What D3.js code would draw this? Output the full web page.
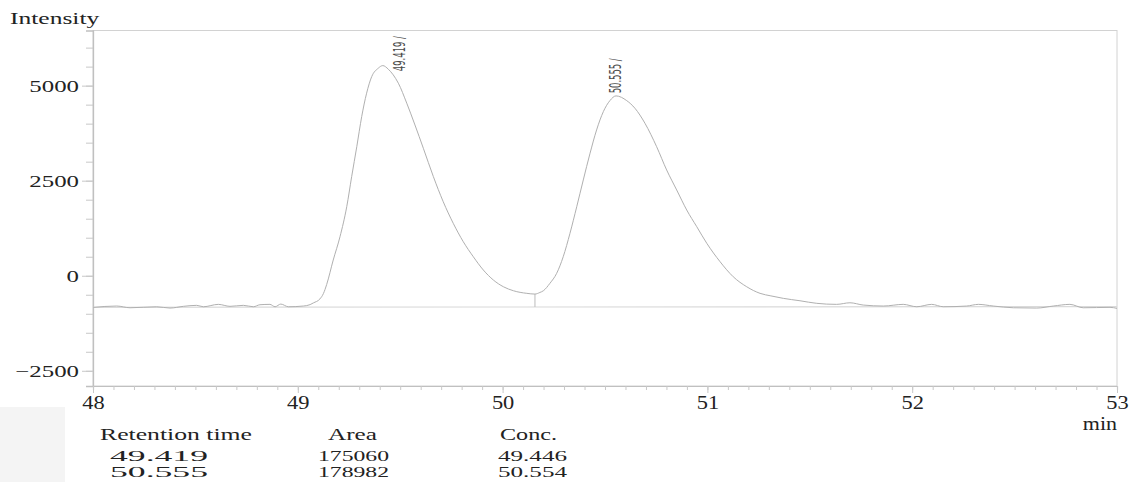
<!DOCTYPE html>
<html>
<head>
<meta charset="utf-8">
<script src="https://cdn.jsdelivr.net/npm/d3@7/dist/d3.min.js"></script>
<style>
  html, body { margin: 0; padding: 0; background: #ffffff; }
  svg { display: block; }
</style>
</head>
<body>
<svg id="chart" width="1130" height="482"></svg>
<script>
// ---------------- DATA ----------------
const timeMin = [
  48.000, 48.116, 48.181, 48.311, 48.376, 48.441, 48.506, 48.539, 48.612, 48.669,
  48.734, 48.783, 48.815, 48.864, 48.889, 48.917, 48.954, 49.027, 49.060, 49.076,
  49.108, 49.125, 49.141, 49.173, 49.206, 49.239, 49.263, 49.288, 49.312, 49.336,
  49.361, 49.393, 49.415, 49.442, 49.466, 49.491, 49.532, 49.572, 49.613, 49.662,
  49.710, 49.759, 49.808, 49.857, 49.906, 49.955, 50.004, 50.053, 50.118, 50.158,
  50.182, 50.199, 50.231, 50.264, 50.296, 50.329, 50.362, 50.394, 50.427, 50.459,
  50.492, 50.524, 50.554, 50.606, 50.646, 50.695, 50.752, 50.801, 50.850, 50.899,
  50.948, 50.997, 51.062, 51.126, 51.192, 51.257, 51.310, 51.371, 51.452, 51.534,
  51.631, 51.696, 51.761, 51.859, 51.956, 52.022, 52.095, 52.152, 52.266, 52.323,
  52.396, 52.494, 52.608, 52.689, 52.770, 52.835, 52.966, 53.000
];
const intensity = [
  -832, -797, -842, -816, -850, -805, -779, -816, -753, -805,
  -779, -816, -763, -753, -816, -745, -816, -797, -760, -715,
  -610, -470, -230, 413, 1026, 1816, 2606, 3395, 4185, 4801,
  5238, 5459, 5527, 5432, 5283, 5064, 4538, 3966, 3353, 2606,
  1948, 1379, 895, 500, 150, -113, -290, -395, -463, -482,
  -440, -395, -200, 63, 500, 1116, 1816, 2519, 3222, 3835,
  4317, 4606, 4730, 4606, 4406, 4011, 3395, 2782, 2256, 1729,
  1290, 853, 368, -26, -290, -463, -530, -595, -658, -726,
  -753, -711, -771, -797, -753, -816, -753, -816, -797, -753,
  -797, -842, -850, -797, -753, -842, -832, -858
];

const baselineTime = [48, 53];
const baselineValue = [-830, -810];
const dropTimes = [50.158];

const peakRT = [49.419, 50.555];
const peakLabels = ["49.419 /", "50.555 /"];

const xMajorTicks = [48, 49, 50, 51, 52, 53];
const yMajorTicks = [-2500, 0, 2500, 5000];

const tableHeaders = ["Retention time", "Area", "Conc."];
const tableRT = ["49.419", "50.555"];
const tableArea = ["175060", "178982"];
const tableConc = ["49.446", "50.554"];

// ---------------- LAYOUT ----------------
const svg = d3.select("#chart");
const L = 93, R = 1117, T = 30.5, B = 386;
const serif = "'Liberation Serif', 'DejaVu Serif', serif";
const narrow = "'Liberation Sans Narrow', 'DejaVu Sans Condensed', 'Liberation Sans', sans-serif";

const x = d3.scaleLinear().domain([48, 53]).range([L, R]);
const y = d3.scaleLinear().domain([-2900, 6450]).range([B, T]);

// faint grey patch bottom-left
svg.append("rect").attr("x", 0).attr("y", 407).attr("width", 65).attr("height", 75)
  .attr("fill", "#f4f4f4");

function stretch(sel, sx) {
  sel.each(function () {
    const w = this.getComputedTextLength();
    d3.select(this).attr("textLength", w * sx).attr("lengthAdjust", "spacingAndGlyphs");
  });
}

// frame
svg.append("rect").attr("x", L).attr("y", T).attr("width", R - L).attr("height", B - T)
  .attr("fill", "none").attr("stroke", "#d2d2d2").attr("stroke-width", 1);

// y axis minor
const yMinor = d3.range(-2500, 6001, 500);
svg.append("g").attr("transform", `translate(${L},0)`)
  .call(d3.axisLeft(y).tickValues(yMinor).tickSize(7).tickFormat(""))
  .call(g => { g.select(".domain").attr("stroke", "#c0c0c0").attr("stroke-width", 1.3); g.selectAll("line").attr("stroke", "#c8c8c8"); });

// y axis major
const yAx = svg.append("g").attr("transform", `translate(${L},0)`)
  .call(d3.axisLeft(y).tickValues(yMajorTicks).tickSize(11).tickPadding(3)
    .tickFormat(d => d < 0 ? "\u2212" + Math.abs(d) : String(d)));
yAx.select(".domain").remove();
yAx.selectAll("line").attr("stroke", "#c8c8c8");
yAx.selectAll("text").attr("font-family", serif).attr("font-size", 17.5).attr("fill", "#222");
stretch(yAx.selectAll("text"), 1.42);

// x axis minor
const xMinor = d3.range(0, 51).map(i => 48 + i * 0.1);
svg.append("g").attr("transform", `translate(0,${B})`)
  .call(d3.axisBottom(x).tickValues(xMinor).tickSize(4).tickFormat(""))
  .call(g => { g.select(".domain").attr("stroke", "#c0c0c0").attr("stroke-width", 1.2); g.selectAll("line").attr("stroke", "#c8c8c8"); });

// x axis major
const xAx = svg.append("g").attr("transform", `translate(0,${B})`)
  .call(d3.axisBottom(x).tickValues(xMajorTicks).tickSize(7).tickFormat(d3.format("d")));
xAx.select(".domain").remove();
xAx.selectAll("line").attr("stroke", "#c8c8c8");
xAx.selectAll("text").attr("font-family", serif).attr("font-size", 19.5).attr("fill", "#222")
  .attr("y", 23).attr("dy", 0);
stretch(xAx.selectAll("text"), 1.15);

// axis titles
const intens = svg.append("text").attr("x", 10).attr("y", 24).attr("font-family", serif)
  .attr("font-size", 17).attr("fill", "#222").text("Intensity");
stretch(intens, 1.5);
const minT = svg.append("text").attr("x", R).attr("y", 429.5).attr("text-anchor", "end")
  .attr("font-family", serif).attr("font-size", 18).attr("fill", "#222").text("min");
stretch(minT, 1.22);

// ---------------- MARKS ----------------
const pts = timeMin.map((t, i) => [t, intensity[i]]);

// baseline
svg.append("line")
  .attr("x1", x(baselineTime[0])).attr("y1", y(baselineValue[0]))
  .attr("x2", x(baselineTime[1])).attr("y2", y(baselineValue[1]))
  .attr("stroke", "#dadada").attr("stroke-width", 1.2);

function valueAt(t) {
  const i = d3.bisector(d => d[0]).left(pts, t);
  if (i <= 0) return pts[0][1];
  if (i >= pts.length) return pts[pts.length - 1][1];
  const a = pts[i - 1], b = pts[i];
  return a[1] + (b[1] - a[1]) * (t - a[0]) / (b[0] - a[0]);
}
function baseAt(t) {
  return baselineValue[0] + (baselineValue[1] - baselineValue[0]) * (t - baselineTime[0]) / (baselineTime[1] - baselineTime[0]);
}

// drop lines
svg.selectAll("line.drop").data(dropTimes).join("line").attr("class", "drop")
  .attr("x1", d => x(d)).attr("x2", d => x(d))
  .attr("y1", d => y(baseAt(d))).attr("y2", d => y(valueAt(d)))
  .attr("stroke", "#bcbcbc").attr("stroke-width", 1);

// chromatogram trace
svg.append("path").datum(pts)
  .attr("d", d3.line().x(d => x(d[0])).y(d => y(d[1])).curve(d3.curveMonotoneX))
  .attr("fill", "none").attr("stroke", "#b0b0b0").attr("stroke-width", 1);

// peak labels (rotated)
const labelShift = [[21.5, 5], [5, -2.7]];
peakRT.forEach((rt, i) => {
  const px = x(rt) + labelShift[i][0];
  const py = y(valueAt(rt)) + labelShift[i][1];
  svg.append("text")
    .attr("transform", `translate(${px},${py}) rotate(-90) scale(1,1.4)`)
    .attr("font-family", narrow).attr("font-size", 11).attr("fill", "#4a4a4a")
    .attr("textLength", 35).attr("lengthAdjust", "spacingAndGlyphs")
    .text(peakLabels[i]);
});

// ---------------- TABLE ----------------
const tbl = svg.append("g").attr("font-family", serif).attr("fill", "#222");
const headX = [100, 328, 500];
const headW = [152, 49, 57];
tableHeaders.forEach((h, i) => {
  tbl.append("text").attr("x", headX[i]).attr("y", 440).attr("font-size", 16).text(h)
    .attr("textLength", headW[i]).attr("lengthAdjust", "spacingAndGlyphs");
});
const rowY = [461, 477];
const cols = [
  { vals: tableRT, x: 110, w: 98 },
  { vals: tableArea, x: 318, w: 71 },
  { vals: tableConc, x: 498, w: 69 }
];
cols.forEach(c => {
  c.vals.forEach((v, r) => {
    tbl.append("text").attr("x", c.x).attr("y", rowY[r]).attr("font-size", 14.5).text(v)
      .attr("textLength", c.w).attr("lengthAdjust", "spacingAndGlyphs");
  });
});
</script>
</body>
</html>
